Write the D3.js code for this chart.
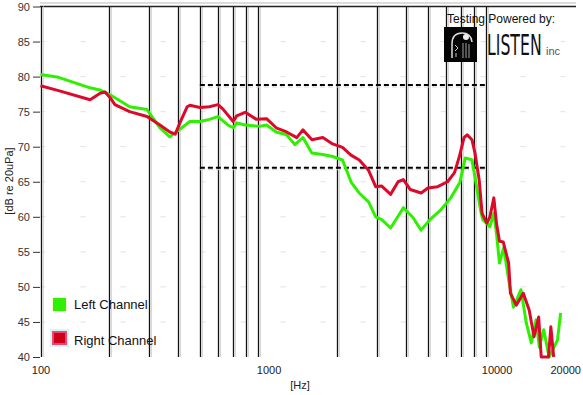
<!DOCTYPE html>
<html><head><meta charset="utf-8">
<script src="https://cdn.jsdelivr.net/npm/d3@7"></script>
<style>
html,body{margin:0;padding:0;background:#fff;}
svg{display:block;font-family:"Liberation Sans",Arial,sans-serif;}
</style></head>
<body>
<svg id="chart" width="583" height="395"></svg>
<script>
// ---- data ----
const rightFreq = [100,120,165,182,192,202,212,246,293,334,369,390,410,440,452,500,550,600,630,700,725,790,885,980,1080,1200,1330,1415,1550,1730,1910,2110,2300,2500,2750,2950,3130,3430,3700,3900,4180,4670,5000,5520,6100,6540,6870,7200,7430,7800,8040,8390,8640,9070,9350,9730,10000,10300,10700,11300,11500,12200,13100,13900,14600,15300,15700,16900,17300,17800];
const rightDb   = [78.7,78.0,76.7,77.6,77.8,77.0,76.0,75.0,74.3,73.1,72.1,71.8,73.5,75.7,75.9,75.6,75.7,76.0,75.4,73.6,74.4,74.9,73.9,74.0,72.7,72.1,71.3,72.4,71.0,71.3,70.4,69.9,68.8,68.1,66.6,64.3,64.4,63.2,65.0,65.3,63.9,63.4,64.1,64.3,65.0,66.3,68.6,71.3,71.7,71.0,69.1,65.3,60.5,59.1,60.0,62.7,59.0,56.5,56.4,53.4,49.1,47.4,49.1,46.7,42.9,45.7,40.0,40.0,44.3,39.9];
const leftFreq  = [100,120,165,182,202,246,293,334,369,409,452,500,550,600,663,700,725,790,913,980,1080,1200,1304,1415,1548,1728,1910,2111,2306,2496,2750,2950,3135,3432,3903,4300,4666,5100,5700,6300,6900,7300,7800,8040,8500,8700,9350,9730,10000,10300,10750,11300,11860,12800,13500,14200,14900,15400,16100,17000,18500,19100];
const leftDb    = [80.3,79.9,78.4,78.1,77.4,75.7,75.3,72.7,71.4,72.5,73.6,73.6,73.9,74.3,73.1,72.7,73.4,73.1,72.9,73.1,72.1,71.7,70.3,71.3,69.1,68.9,68.6,68.1,64.9,63.4,62.1,60.0,59.6,58.4,61.3,59.9,58.1,59.6,61.0,62.7,64.9,68.4,68.1,65.7,61.0,59.6,58.6,60.5,57.5,53.4,55.6,51.0,47.1,49.6,44.9,42.0,45.3,41.4,43.9,40.0,42.4,46.3];
const gridFreqs = [200,300,400,500,600,700,800,900,2000,3000,4000,5000,6000,7000,8000,9000];
const xTickVals = [100,1000,10000,20000];
const xTickLabels = ["100","1000","10000","20000"];
const yTicks = [40,45,50,55,60,65,70,75,80,85,90];
const refLevels = [78.8,67.0];
const refRange = [500,9000];
const seriesNames = ["Left Channel","Right Channel"];
const seriesColors = ["#2ef000","#dc0a2a"];

// ---- drawing ----
const svg = d3.select("#chart");
const x = d3.scaleLog().domain([100,20000]).range([40.5,565.2]);
const y = d3.scaleLinear().domain([40,90]).range([357,6.5]);

// faint horizontal grid
svg.append("g").selectAll("line").data(yTicks.filter(d=>d>40&&d<90)).join("line")
  .attr("x1",x(100)).attr("x2",x(20000))
  .attr("y1",d=>y(d)).attr("y2",d=>y(d))
  .attr("stroke","#e2e2e2").attr("stroke-width",1).attr("stroke-dasharray","5,35");

// vertical grid lines
const vg = svg.append("g");
vg.selectAll("line.g2").data(gridFreqs).join("line").attr("class","g2")
  .attr("x1",d=>Math.round(x(d))+2.5).attr("x2",d=>Math.round(x(d))+2.5)
  .attr("y1",y(90)).attr("y2",y(40)).attr("stroke","#d8d8d8").attr("stroke-width",1);
vg.selectAll("line.g1").data(gridFreqs).join("line").attr("class","g1")
  .attr("x1",d=>Math.round(x(d))+0.5).attr("x2",d=>Math.round(x(d))+0.5)
  .attr("y1",y(90)).attr("y2",y(40)).attr("stroke","#111").attr("stroke-width",1.3);

// top border (double)
svg.append("line").attr("x1",40).attr("x2",576).attr("y1",3).attr("y2",3).attr("stroke","#d0d0d0").attr("stroke-width",1.5);
svg.append("line").attr("x1",40).attr("x2",576).attr("y1",6.5).attr("y2",6.5).attr("stroke","#222").attr("stroke-width",1.5);

// left axis
svg.append("line").attr("x1",41.5).attr("x2",41.5).attr("y1",y(90)).attr("y2",y(40)).attr("stroke","#111").attr("stroke-width",1.3);
svg.append("line").attr("x1",43.5).attr("x2",43.5).attr("y1",y(90)).attr("y2",y(40)).attr("stroke","#d8d8d8").attr("stroke-width",1);

const yAxis = d3.axisLeft(y).tickValues(yTicks).tickSize(7).tickPadding(3).tickFormat(d3.format("d"));
const ya = svg.append("g").attr("transform","translate(40,0)").call(yAxis);
ya.select(".domain").remove();
ya.selectAll("text").attr("font-size",11).attr("fill","#333").attr("font-family","Liberation Sans, Arial, sans-serif");
ya.selectAll("line").attr("stroke","#333");

const xAxis = d3.axisBottom(x).tickValues(xTickVals).tickSize(0).tickPadding(0)
  .tickFormat((d,i)=>xTickLabels[i]);
const xa = svg.append("g").attr("transform","translate(0,366)").call(xAxis);
xa.select(".domain").remove();
xa.selectAll("text").attr("font-size",11).attr("fill","#222").attr("font-family","Liberation Sans, Arial, sans-serif");

// axis titles
svg.append("text").attr("x",300).attr("y",389).attr("text-anchor","middle")
  .attr("font-size",11).attr("fill","#222").text("[Hz]");
svg.append("text").attr("transform","translate(13,181) rotate(-90)").attr("text-anchor","middle")
  .attr("font-size",11).attr("fill","#222").text("[dB re 20uPa]");

// reference dashed lines
refLevels.forEach(v=>{
  svg.append("line").attr("x1",x(refRange[0])).attr("x2",x(refRange[1]))
    .attr("y1",y(v)+2).attr("y2",y(v)+2).attr("stroke","#d4d4d4").attr("stroke-width",1).attr("stroke-dasharray","5,3");
  svg.append("line").attr("x1",x(refRange[0])).attr("x2",x(refRange[1]))
    .attr("y1",y(v)).attr("y2",y(v)).attr("stroke","#000").attr("stroke-width",2).attr("stroke-dasharray","5,3");
});

// curves
const line = d3.line().x(d=>x(d[0])).y(d=>y(Math.max(40,d[1])));
const leftPts = leftFreq.map((f,i)=>[f,leftDb[i]]);
const rightPts = rightFreq.map((f,i)=>[f,rightDb[i]]);
svg.append("path").datum(leftPts).attr("d",line).attr("fill","none")
  .attr("stroke",seriesColors[0]).attr("stroke-width",3).attr("stroke-linejoin","round");
svg.append("path").datum(rightPts).attr("d",line).attr("fill","none")
  .attr("stroke",seriesColors[1]).attr("stroke-width",3).attr("stroke-linejoin","round");

// legend
const lg = svg.append("g");
lg.append("rect").attr("x",52).attr("y",297).attr("width",15).attr("height",15).attr("fill","#f4fbd0");
lg.append("rect").attr("x",53).attr("y",298).attr("width",13).attr("height",13).attr("fill",seriesColors[0]);
lg.append("rect").attr("x",50).attr("y",329).attr("width",19).attr("height",18).attr("fill","#d6f6f6");
lg.append("rect").attr("x",52).attr("y",331).attr("width",15).attr("height",14).attr("fill","#ee4477");
lg.append("rect").attr("x",54).attr("y",333).attr("width",11).attr("height",10).attr("fill","#cc0016");
lg.append("text").attr("x",74).attr("y",309).attr("font-size",13).attr("fill","#111").text(seriesNames[0]);
lg.append("text").attr("x",74).attr("y",345).attr("font-size",13).attr("fill","#111").text(seriesNames[1]);

// "Testing Powered by" logo
const lo = svg.append("g");
lo.append("text").attr("x",447).attr("y",23).attr("font-size",12).attr("fill","#111").text("Testing Powered by:");
lo.append("rect").attr("x",444).attr("y",27).attr("width",33).attr("height",35).attr("fill","#050505");
lo.append("path").attr("d","M452,58 L452,44 Q452,33 462,33 Q471,33 472,42").attr("fill","none").attr("stroke","#ddd").attr("stroke-width",1.5);
lo.append("circle").attr("cx",466).attr("cy",37).attr("r",3).attr("fill","#eee");
lo.append("path").attr("d","M463,43 L463,58 M466,43 L466,58 M469,44 L469,58").attr("stroke","#888").attr("stroke-width",1.2);
lo.append("path").attr("d","M455,45 L458,48 L455,51 M456,53 L456,57").attr("fill","none").attr("stroke","#ccc").attr("stroke-width",1);
lo.append("text").attr("transform","translate(487,55) scale(0.92,1.5)").attr("font-size",19)
  .attr("font-family","Liberation Sans Narrow, DejaVu Sans Condensed, sans-serif")
  .attr("fill","#111").text("LISTEN");
lo.append("text").attr("x",546).attr("y",55).attr("font-size",11).attr("font-family","Liberation Sans Narrow, sans-serif")
  .attr("fill","#555").text("inc");
</script>
</body></html>
